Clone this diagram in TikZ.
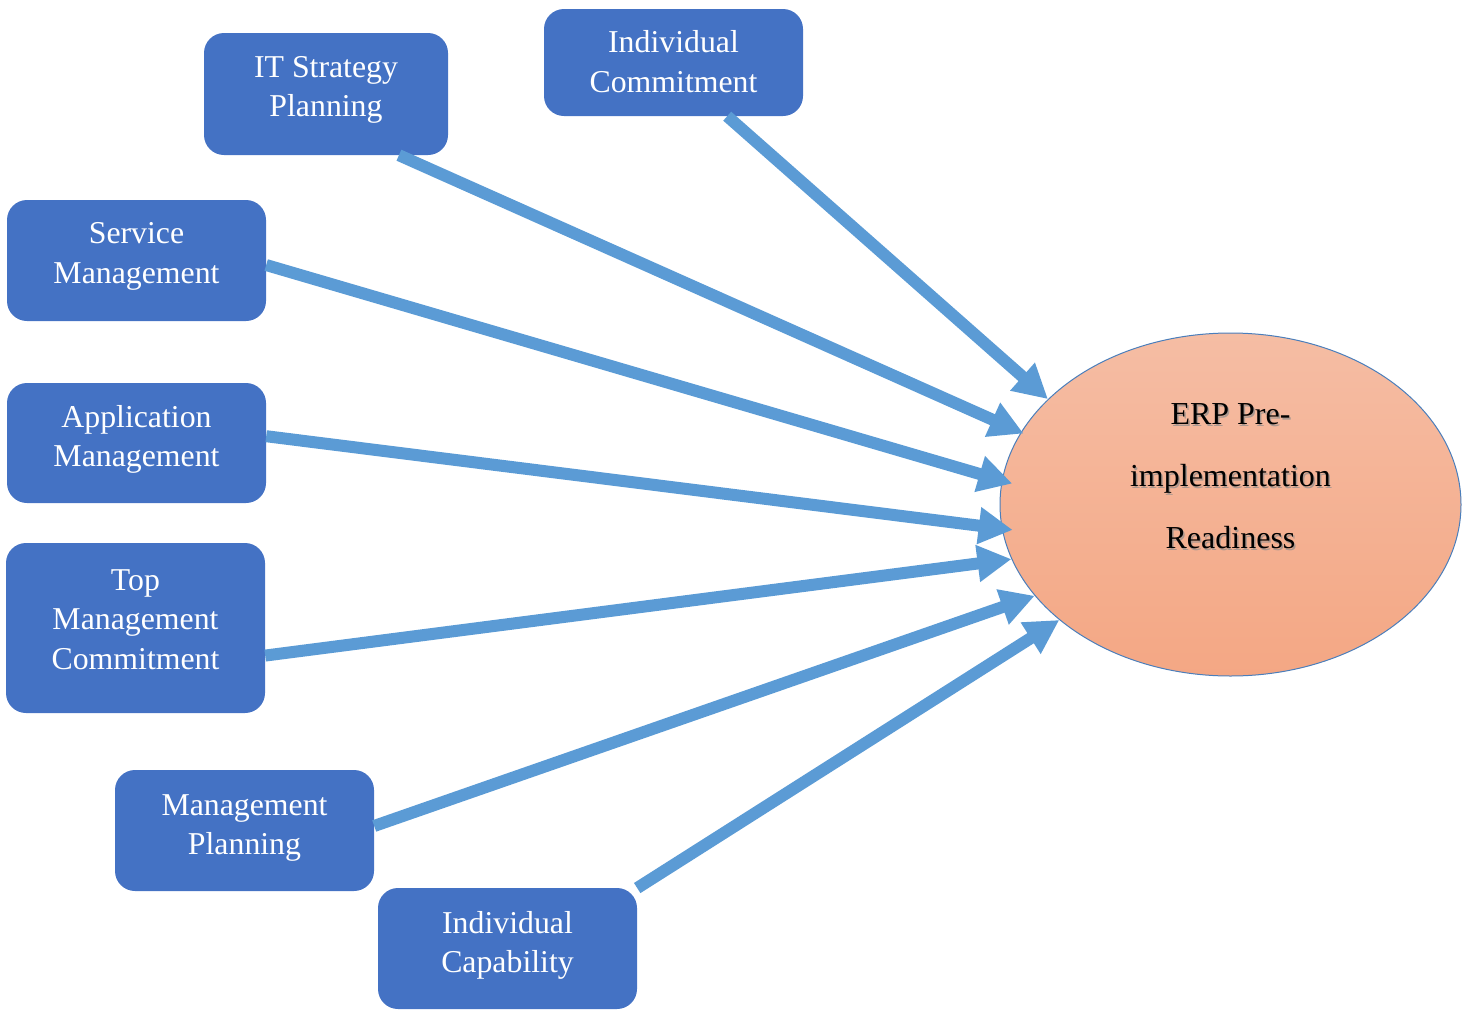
\documentclass[tikz,border=0pt]{standalone}
\usepackage{fontspec}
\setmainfont{Liberation Serif}
\usetikzlibrary{arrows.meta,shapes.geometric}
\definecolor{boxblue}{HTML}{4472C4}
\definecolor{arrowblue}{HTML}{5B9BD5}
\definecolor{peachtop}{HTML}{F5BDA4}
\definecolor{peachbot}{HTML}{F4A784}
\definecolor{rimblue}{HTML}{4A7EBB}
\begin{document}
\begin{tikzpicture}[x=1pt,y=-1pt,
  factor/.style={rectangle, rounded corners=20pt, fill=boxblue, text=white,
    align=center, inner sep=0pt, minimum width=259pt, minimum height=121pt,
    font=\fontsize{31.8}{39.5}\selectfont},
  link/.style={draw=arrowblue, line width=12pt,
    -{Triangle[length=34pt,width=35pt]}},
  goal/.style={ellipse, draw=rimblue, line width=1pt, inner sep=0pt,
    top color=peachtop, bottom color=peachbot,
    minimum width=461pt, minimum height=343pt},
  goaltext/.style={align=center, font=\fontsize{32}{62}\selectfont}]
\useasboundingbox (0,0) rectangle (1470,1010);

% factor boxes
\node[factor, minimum width=244pt, minimum height=122pt, text depth=14.7pt] (it) at (326,94) {IT Strategy\\Planning};
\node[factor, minimum height=107pt, text depth=2pt] (ic) at (673.5,62.5) {Individual\\Commitment};
\node[factor, text depth=14.7pt] (sm) at (136.5,260.5) {Service\\Management};
\node[factor, minimum height=120pt, text depth=14pt] (am) at (136.5,443) {Application\\Management};
\node[factor, minimum height=170pt, text depth=17pt] (tm) at (135.5,628) {Top\\Management\\Commitment};
\node[factor, text depth=11.7pt] (mp) at (244.5,830.5) {Management\\Planning};
\node[factor, text depth=12.7pt] (cap) at (507.5,948.5) {Individual\\Capability};

% outcome ellipse
\node[goal] (erp) at (1230.5,504.5) {};
\node[goaltext, text=black!45, opacity=0.7] (erpshadow) at (1232,478) {ERP Pre-\\implementation\\Readiness};
\node[goaltext] (erptext) at (1230.5,476) {ERP Pre-\\implementation\\Readiness};

% influence arrows
\draw[link, shorten >=-3pt] (it.-40) -- (erp.161.5);
\draw[link] (ic.-45) -- (erp.150);
\draw[link, shorten >=-11pt] (sm.-2) -- (erp.174.5);
\draw[link, shorten >=-11pt] (am.3) -- (erp.186);
\draw[link] (tm.-12) -- (erp.194);
\draw[link] (mp.2) -- (erp.205);
\draw[link] (cap.25) -- (erp.214);
\end{tikzpicture}
\end{document}
